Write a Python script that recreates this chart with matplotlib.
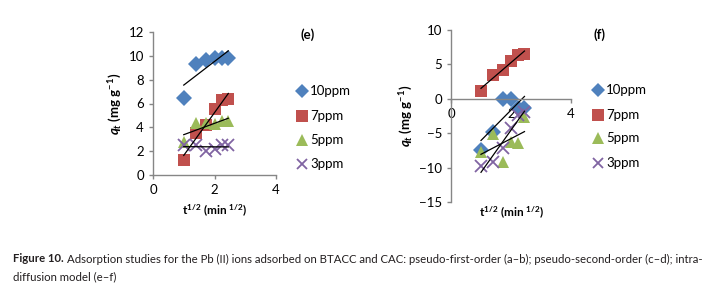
import numpy as np
import matplotlib
matplotlib.use("Agg")
import matplotlib.pyplot as plt
from matplotlib.lines import Line2D

plt.rcParams['font.family'] = ['Lato', 'DejaVu Sans']
plt.rcParams['mathtext.fontset'] = 'custom'
plt.rcParams['mathtext.rm'] = 'Lato:bold'
plt.rcParams['mathtext.it'] = 'Lato:bold:italic'
plt.rcParams['mathtext.bf'] = 'Lato:bold'

# ---- data ----
x_vals = [1.0, 1.414, 1.732, 2.0, 2.236, 2.449]
series = ['10ppm', '7ppm', '5ppm', '3ppm']

e_10 = [6.5, 9.3, 9.65, 9.8, 9.8, 9.8]
e_7 = [1.3, 3.5, 4.2, 5.5, 6.3, 6.4]
e_5 = [2.8, 4.4, 4.4, 4.3, 4.5, 4.5]
e_3 = [2.5, 2.5, 2.0, 2.2, 2.5, 2.5]

f_10 = [-7.4, -4.8, -0.1, 0.0, -1.3, -1.4]
f_7 = [1.2, 3.4, 4.2, 5.5, 6.4, 6.5]
f_5 = [-7.8, -5.1, -9.2, -6.3, -6.4, -2.6]
f_3 = [-9.7, -9.2, -7.1, -4.2, -2.4, -1.9]

x_ticks = [0, 2, 4]
e_yticks = [0, 2, 4, 6, 8, 10, 12]
f_yticks = [-15, -10, -5, 0, 5, 10]

colors = ['#4F81BD', '#C0504D', '#9BBB59', '#8064A2']
markers = ['D', 's', '^', 'x']
msizes = [8, 9, 9, 8]

W, H = 717, 303
fig = plt.figure(figsize=(W / 100, H / 100), dpi=100)

def style_axis(ax):
    for s in ['top', 'right']:
        ax.spines[s].set_visible(False)
    for s in ['left', 'bottom']:
        ax.spines[s].set_color('#868686')
        ax.spines[s].set_linewidth(1.0)
    ax.tick_params(axis='both', colors='#868686', labelcolor='black',
                   labelsize=9.5, length=3, width=1, direction='out')

def draw(ax, data):
    for vals, c, m, ms in zip(data, colors, markers, msizes):
        ax.plot(x_vals, vals, linestyle='none', marker=m, color=c,
                markersize=ms, markeredgewidth=1.3 if m == 'x' else 0,
                clip_on=False)
    for vals in data:
        p = np.polyfit(x_vals, vals, 1)
        xx = np.array([min(x_vals), max(x_vals)])
        ax.plot(xx, np.polyval(p, xx), color='black', linewidth=0.9)

# ---- panel e ----
axe = fig.add_axes([153 / W, 1 - 175 / H, 123 / W, 143 / H])
draw(axe, [e_10, e_7, e_5, e_3])
axe.set_xlim(0, 4)
axe.set_ylim(0, 12)
axe.set_xticks(x_ticks)
axe.set_yticks(e_yticks)
style_axis(axe)
axe.set_ylabel(r'$q_t$ (mg g$^{-1}$)', fontsize=9.5, fontweight='bold', labelpad=3)
axe.set_xlabel(r't$^{1/2}$ (min $^{1/2}$)', fontsize=8.5, fontweight='bold', labelpad=5)

# ---- panel f ----
axf = fig.add_axes([451 / W, 1 - 202 / H, 120 / W, 172 / H])
draw(axf, [f_10, f_7, f_5, f_3])
axf.set_xlim(0, 4)
axf.set_ylim(-15, 10)
axf.set_xticks(x_ticks)
axf.set_yticks(f_yticks)
style_axis(axf)
axf.spines['bottom'].set_position(('data', 0))
axf.set_ylabel(r'$q_t$ (mg g$^{-1}$)', fontsize=9.5, fontweight='bold', labelpad=3)
fig.text(512 / W, 1 - 213 / H, r't$^{1/2}$ (min $^{1/2}$)', fontsize=8.5,
         fontweight='bold', ha='center', va='center')

# ---- legends ----
def legend_at(x0, ys):
    for name, c, m, ms, y in zip(series, colors, markers, msizes, ys):
        fig.add_artist(Line2D([x0 / W], [1 - y / H], marker=m, color=c,
                              markersize=ms - 1,
                              markeredgewidth=1.3 if m == 'x' else 0,
                              linestyle='none', transform=fig.transFigure))
        fig.text((x0 + 8) / W, 1 - y / H, name, fontsize=9.5, va='center', ha='left')

legend_at(302, [91, 116, 140, 164])
legend_at(598, [90, 115, 138, 163])

fig.text(308 / W, 1 - 35 / H, '(e)', fontsize=9.5, fontweight='bold', ha='center', va='center')
fig.text(600 / W, 1 - 35 / H, '(f)', fontsize=9.5, fontweight='bold', ha='center', va='center')

# ---- caption ----
cap_rest = ('Adsorption studies for the Pb (II) ions adsorbed on BTACC and CAC: '
            'pseudo-first-order (a\u2013b); pseudo-second-order (c\u2013d); intra-')
renderer = fig.canvas.get_renderer()
fs = 7.6
target_right = 706
t1 = fig.text(13 / W, 1 - 259 / H, 'Figure 10.', fontsize=fs, fontweight='bold',
              va='center', ha='left', color='#231f20')
t2 = fig.text(0, 1 - 259 / H, cap_rest, fontsize=fs, va='center', ha='left', color='#231f20')
for _ in range(4):
    t1.set_fontsize(fs)
    t2.set_fontsize(fs)
    b1 = t1.get_window_extent(renderer=renderer)
    t2.set_x((b1.x1 + 3) / W)
    b2 = t2.get_window_extent(renderer=renderer)
    fs = fs * (target_right - 13) / (b2.x1 - 13)
t3 = fig.text(13 / W, 1 - 277 / H, 'diffusion model (e\u2013f)', fontsize=t2.get_fontsize(),
              va='center', ha='left', color='#231f20')

fig.savefig('out.png', dpi=100)
